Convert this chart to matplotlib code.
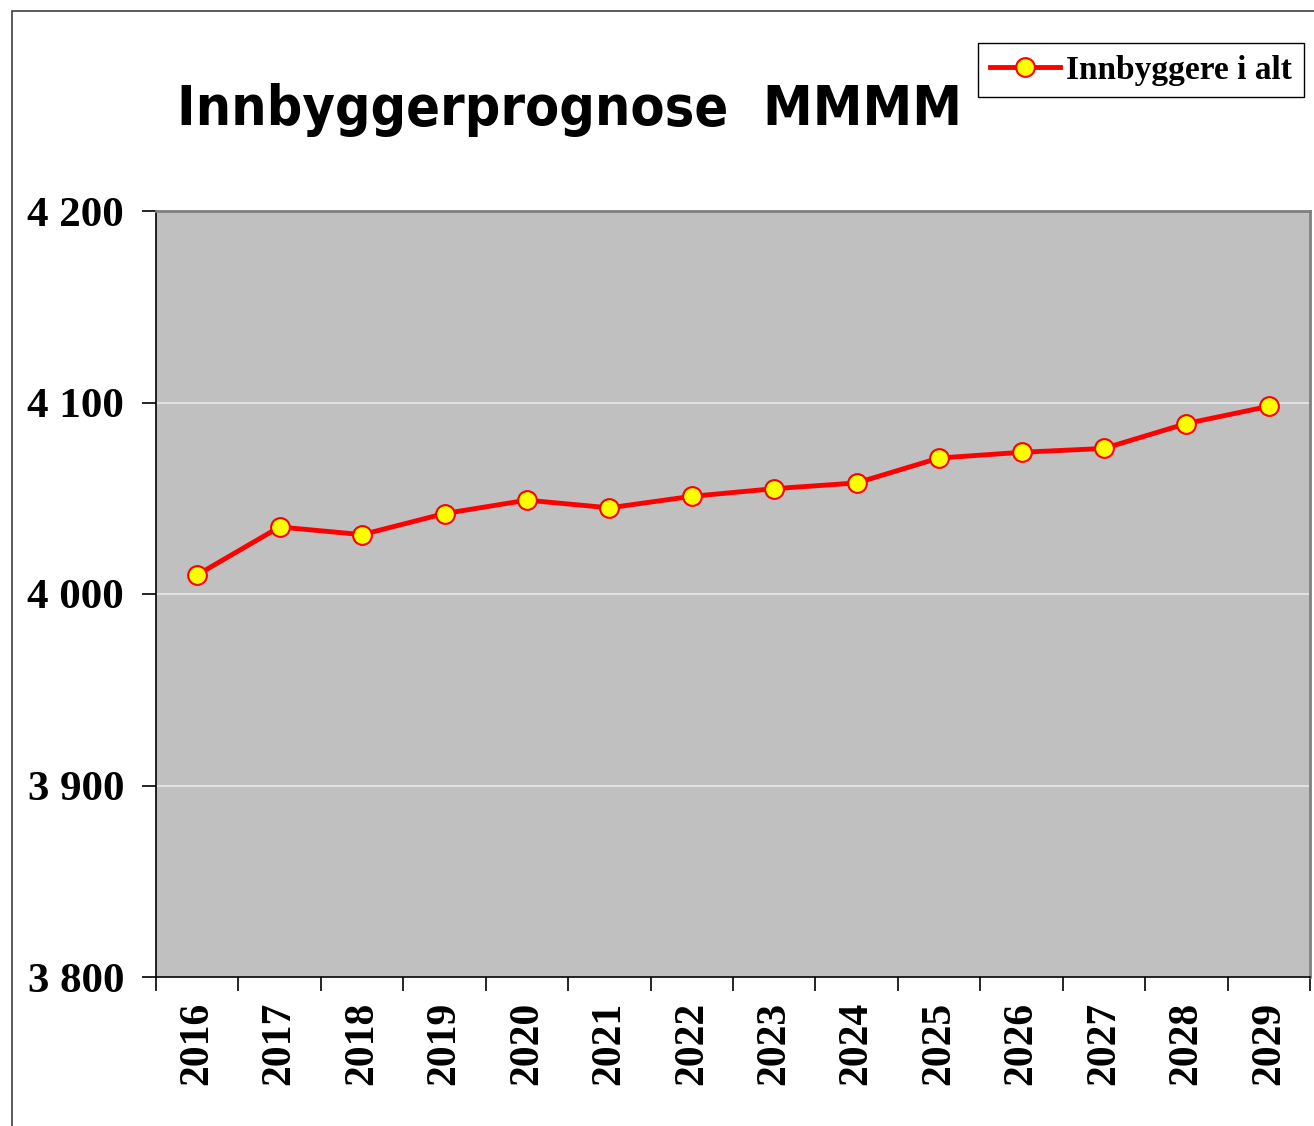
import matplotlib.pyplot as plt
from matplotlib.patches import Rectangle
from matplotlib.ticker import FuncFormatter, FixedLocator

years = ['2016', '2017', '2018', '2019', '2020', '2021', '2022',
         '2023', '2024', '2025', '2026', '2027', '2028', '2029']
innbyggere = [4010, 4035, 4031, 4042, 4049, 4045, 4051,
              4055, 4058, 4071, 4074, 4076, 4089, 4098]

W, H = 1314, 1126
fig = plt.figure(figsize=(W / 100, H / 100), dpi=100)
fig.patch.set_facecolor('white')

# outer chart frame (cut off at right/bottom like the source)
fig.patches.append(Rectangle((12 / W, -0.1), 1.2, 1 - 11 / H + 0.1,
                             transform=fig.transFigure, fill=False,
                             edgecolor='#404040', linewidth=1.2))

ax = fig.add_axes([156 / W, 1 - 977 / H, (1310 - 156) / W, (977 - 211) / H])
ax.set_facecolor('#c0c0c0')

x = [i + 0.5 for i in range(len(years))]
ax.plot(x, innbyggere, color='#ff0000', linewidth=3.5, marker='o',
        markersize=13.5, markerfacecolor='#ffff00', markeredgecolor='#ff0000',
        markeredgewidth=1.5, label='Innbyggere i alt', zorder=3)

ax.set_xlim(0, len(years))
ax.set_ylim(3800, 4200)
ax.set_yticks([3800, 3900, 4000, 4100, 4200])
ax.yaxis.set_major_formatter(FuncFormatter(lambda v, p: f'{int(v):,}'.replace(',', ' ')))
ax.grid(axis='y', color='#e8e8e8', linewidth=1.2)
ax.set_axisbelow(True)

ax.xaxis.set_major_locator(FixedLocator(range(len(years) + 1)))
ax.xaxis.set_major_formatter(FuncFormatter(lambda v, p: ''))
ax.xaxis.set_minor_locator(FixedLocator(x))
ax.set_xticklabels(years, minor=True, rotation=90)
ax.tick_params(axis='x', which='major', direction='out', length=10, width=1.2, color='black')
ax.tick_params(axis='x', which='minor', length=0, pad=18)
ax.tick_params(axis='y', direction='out', length=10, width=1.2, pad=13)

for lbl in ax.get_yticklabels():
    lbl.set_fontfamily('Liberation Serif')
    lbl.set_fontweight('bold')
    lbl.set_fontsize(31)
for lbl in ax.get_xticklabels(minor=True):
    lbl.set_fontfamily('Liberation Serif')
    lbl.set_fontweight('bold')
    lbl.set_fontsize(30)

for s in ['top', 'right']:
    ax.spines[s].set_color('#808080')
    ax.spines[s].set_linewidth(2)
for s in ['left', 'bottom']:
    ax.spines[s].set_color('black')
    ax.spines[s].set_linewidth(1.2)

fig.text(177 / W, 1 - 110 / H, 'Innbyggerprognose  MMMM', ha='left', va='center',
         fontsize=40, fontweight='heavy', fontstretch='condensed', family='DejaVu Sans')

leg = fig.legend(loc='upper left', bbox_to_anchor=(978 / W, 1 - 43 / H),
                 prop={'family': 'Liberation Serif', 'weight': 'bold', 'size': 24},
                 frameon=True, fancybox=False, edgecolor='black', framealpha=1,
                 handlelength=2.1, handletextpad=0.2, borderpad=0.35,
                 borderaxespad=0)
leg.get_frame().set_linewidth(1.0)
leg.set_zorder(5)

fig.savefig('out.png', dpi=100)
